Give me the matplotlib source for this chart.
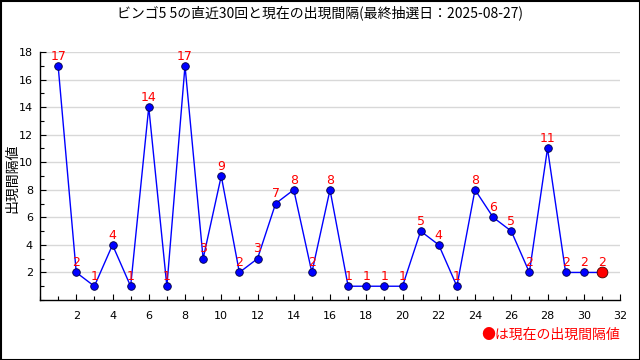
import matplotlib
matplotlib.use("Agg")
import matplotlib.pyplot as plt
from matplotlib.ticker import MultipleLocator
from matplotlib.patches import Rectangle

plt.rcParams['font.family'] = ['Noto Sans CJK JP', 'DejaVu Sans']

draws = list(range(1, 32))
intervals = [17, 2, 1, 4, 1, 14, 1, 17, 3, 9, 2, 3, 7, 8, 2, 8, 1, 1, 1, 1,
             5, 4, 1, 8, 6, 5, 2, 11, 2, 2, 2]
title = "ビンゴ5 5の直近30回と現在の出現間隔(最終抽選日：2025-08-27)"
ylabel = "出現間隔値"
note = "●は現在の出現間隔値"

fig = plt.figure(figsize=(6.4, 3.6), dpi=100)
ax = fig.add_axes([40/640, 1-300/360, 580/640, 248/360])

ax.set_xlim(0, 32)
ax.set_ylim(0, 18)
for y in range(2, 19, 2):
    ax.axhline(y, color='#d8d8d8', lw=1, zorder=0)

ax.plot(draws, intervals, color='#0000ff', lw=1, zorder=2)
ax.scatter(draws[:-1], intervals[:-1], s=30, color='#0000ff', edgecolors='#000040',
           linewidths=0.6, zorder=3)
ax.scatter(draws[-1:], intervals[-1:], s=60, color='#ff0000', edgecolors='#400000',
           linewidths=0.6, zorder=4)
for x, v in zip(draws, intervals):
    ax.annotate(str(v), (x, v), xytext=(0, 4.5), textcoords='offset points',
                ha='center', va='baseline', color='#ff0000', fontsize=9,
                family=['DejaVu Sans'], zorder=5)

ax.xaxis.set_major_locator(MultipleLocator(2))
ax.xaxis.set_minor_locator(MultipleLocator(1))
ax.yaxis.set_major_locator(MultipleLocator(2))
ax.yaxis.set_minor_locator(MultipleLocator(1))
ax.tick_params(axis='both', which='major', direction='in', length=4, width=0.8,
               labelsize=8, pad=8)
ax.tick_params(axis='both', which='minor', direction='in', length=3, width=0.8)
ax.set_xticks([t for t in range(2, 33, 2)])
ax.set_yticks([t for t in range(2, 19, 2)])
for lab in ax.get_xticklabels() + ax.get_yticklabels():
    lab.set_family('DejaVu Sans')
ax.tick_params(axis='y', pad=5)

for s in ['top', 'right']:
    ax.spines[s].set_visible(False)
for s in ['left', 'bottom']:
    ax.spines[s].set_linewidth(1)

fig.text(0.5, 1-13/360, title, ha='center', va='center', fontsize=10)
fig.text(12/640, 1-178/360, ylabel, ha='center', va='center', rotation=90, fontsize=10)
fig.text(620/640, 1-335/360, note, ha='right', va='center', fontsize=10, color='#ff0000')

fig.patches.append(Rectangle((0.5/640, 0.5/360), 1-1/640, 1-1/360, transform=fig.transFigure,
                             fill=False, edgecolor='black', lw=1.5))

fig.savefig("out.png", dpi=100)
